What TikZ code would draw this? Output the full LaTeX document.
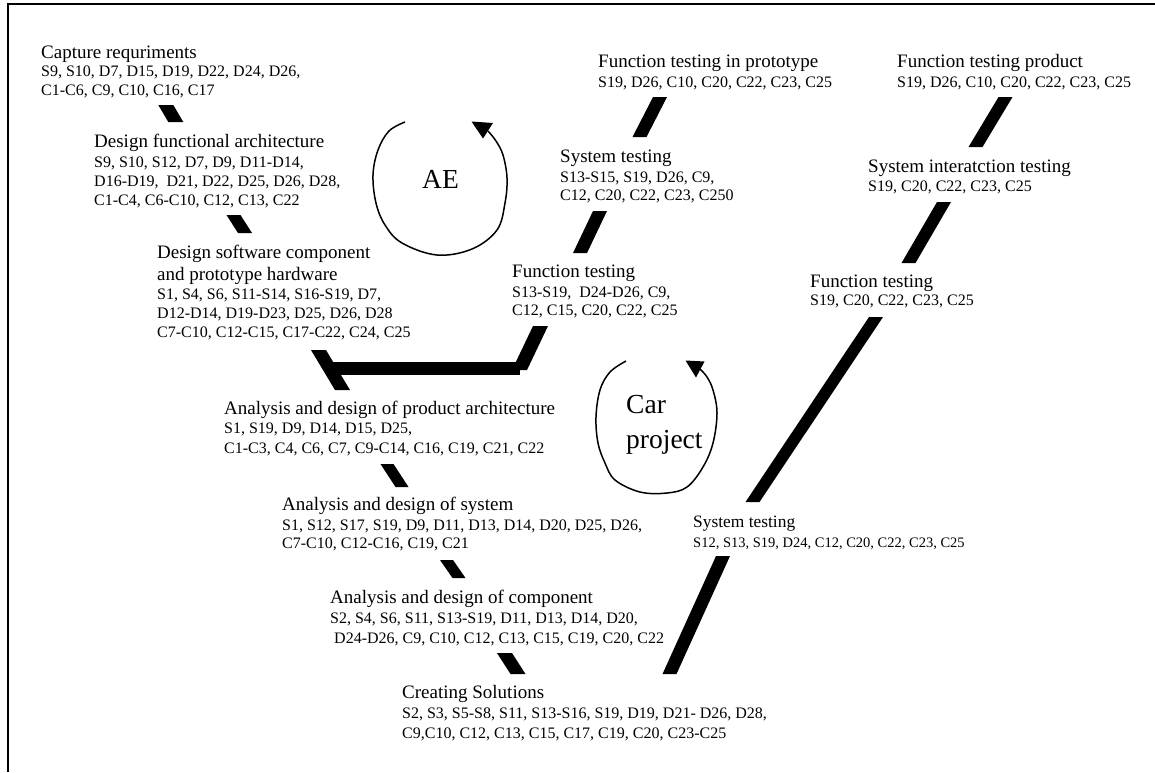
\documentclass[tikz,border=0pt]{standalone}
\usepackage{fontspec}
\setmainfont{Liberation Serif}
\usetikzlibrary{arrows.meta}
\tikzset{
  hd/.style={anchor=base west, inner sep=0pt, font=\fontsize{19}{22}\selectfont},
  cd/.style={anchor=base west, inner sep=0pt, font=\fontsize{16}{19}\selectfont},
  hds/.style={anchor=base west, inner sep=0pt, font=\fontsize{17.4}{21}\selectfont},
  cds/.style={anchor=base west, inner sep=0pt, font=\fontsize{14.5}{17}\selectfont},
  big/.style={anchor=base west, inner sep=0pt, font=\fontsize{27.5}{33}\selectfont},
  bar/.style={fill=black},
  loop/.style={line width=1.5pt},
  loophead/.style={fill=black},
  frame/.style={line width=2pt}
}
\newcommand\vbar[3]{\fill[bar] ([xshift=-#3pt]#1) -- ([xshift=#3pt]#1) -- ([xshift=#3pt]#2) -- ([xshift=-#3pt]#2) -- cycle;}
\begin{document}
\begin{tikzpicture}[x=1pt,y=-1pt]
\useasboundingbox (0,0) rectangle (1155,772);
\draw[frame] (8,772) -- (8,4) -- (1155,4);

% ---- left branch (design) ----
\node[hd] (cap) at (41,58) {Capture requriments};
\node[cd] (cap1) at (41,76) {S9, S10, D7, D15, D19, D22, D24, D26,};
\node[cd] (cap2) at (41,95) {C1-C6, C9, C10, C16, C17};

\node[hd] (dfa) at (94,147) {Design functional architecture};
\node[cd] (dfa1) at (94,167) {S9, S10, S12, D7, D9, D11-D14,};
\node[cd] (dfa2) at (94,186) {D16-D19,\ \ D21, D22, D25, D26, D28,};
\node[cd] (dfa3) at (94,205) {C1-C4, C6-C10, C12, C13, C22};

\node[hd] (dsw) at (157,258) {Design software component};
\node[hd] (dswb) at (157,280) {and prototype hardware};
\node[cd] (dsw1) at (157,299) {S1, S4, S6, S11-S14, S16-S19, D7,};
\node[cd] (dsw2) at (157,318) {D12-D14, D19-D23, D25, D26, D28};
\node[cd] (dsw3) at (157,337) {C7-C10, C12-C15, C17-C22, C24, C25};

\node[hd] (adpa) at (224,414) {Analysis and design of product architecture};
\node[cd] (adpa1) at (224,433) {S1, S19, D9, D14, D15, D25,};
\node[cd] (adpa2) at (224,453) {C1-C3, C4, C6, C7, C9-C14, C16, C19, C21, C22};

\node[hd] (ads) at (282,510) {Analysis and design of system};
\node[cd] (ads1) at (282,530) {S1, S12, S17, S19, D9, D11, D13, D14, D20, D25, D26,};
\node[cd] (ads2) at (282,548) {C7-C10, C12-C16, C19, C21};

\node[hd] (adc) at (330,603) {Analysis and design of component};
\node[cd] (adc1) at (330,623) {S2, S4, S6, S11, S13-S19, D11, D13, D14, D20,};
\node[cd] (adc2) at (334,643) {D24-D26, C9, C10, C12, C13, C15, C19, C20, C22};

\node[hd] (cs) at (402,698) {Creating Solutions};
\node[cd] (cs1) at (402,718) {S2, S3, S5-S8, S11, S13-S16, S19, D19, D21- D26, D28,};
\node[cd] (cs2) at (402,738) {C9,C10, C12, C13, C15, C17, C19, C20, C23-C25};

% ---- AE testing branch ----
\node[hd] (ft1) at (512,277) {Function testing};
\node[cd] (ft1a) at (512,297) {S13-S19,\ \ D24-D26, C9,};
\node[cd] (ft1b) at (512,315) {C12, C15, C20, C22, C25};

\node[hd] (st1) at (560,162) {System testing};
\node[cd] (st1a) at (560,182) {S13-S15, S19, D26, C9,};
\node[cd] (st1b) at (560,200) {C12, C20, C22, C23, C250};

\node[hd] (ftp) at (598,67) {Function testing in prototype};
\node[cd] (ftp1) at (598,87) {S19, D26, C10, C20, C22, C23, C25};

% ---- car project testing branch ----
\node[hds] (st2) at (693,527) {System testing};
\node[cds] (st2a) at (693,547) {S12, S13, S19, D24, C12, C20, C22, C23, C25};

\node[hd] (ft2) at (810,287) {Function testing};
\node[cd] (ft2a) at (810,305) {S19, C20, C22, C23, C25};

\node[hd] (sit) at (868,172) {System interatction testing};
\node[cd] (sita) at (868,191) {S19, C20, C22, C23, C25};

\node[hd] (fpr) at (897,67) {Function testing product};
\node[cd] (fpr1) at (897,87) {S19, D26, C10, C20, C22, C23, C25};

% ---- loop labels ----
\node[big] (ae) at (422,188) {AE};
\node[big] (car) at (626,413) {Car};
\node[big] (proj) at (626,448) {project};

% ---- bar end points ----
\coordinate (a1) at (165.8,105);  \coordinate (a2) at (175.8,122);
\coordinate (b1) at (233.5,215);  \coordinate (b2) at (245,233);
\coordinate (c1) at (318.5,350);  \coordinate (c2) at (342.5,390);
\coordinate (c3) at (540.5,326);  \coordinate (c4) at (519.5,370);
\coordinate (h1) at (330,362);    \coordinate (h2) at (520,375);
\coordinate (d1) at (600,211);    \coordinate (d2) at (580,253);
\coordinate (e1) at (660,97);     \coordinate (e2) at (639.5,137);
\coordinate (f1) at (1005.5,97);  \coordinate (f2) at (975.5,147);
\coordinate (g1) at (944,202);    \coordinate (g2) at (908.5,263);
\coordinate (k1) at (876,317);    \coordinate (k2) at (752.5,502);
\coordinate (i1) at (723,556);    \coordinate (i2) at (669.5,674);
\coordinate (j1) at (387,464);    \coordinate (j2) at (402,487);
\coordinate (m1) at (446.5,560);  \coordinate (m2) at (459,578);
\coordinate (l1) at (504.5,653);  \coordinate (l2) at (518,674);

\vbar{a1}{a2}{7.5}
\vbar{b1}{b2}{7}
\vbar{c1}{c2}{7.5}
\vbar{c3}{c4}{7.5}
\fill[bar] (h1) rectangle (h2);
\vbar{d1}{d2}{7}
\vbar{e1}{e2}{7}
\vbar{f1}{f2}{7}
\vbar{g1}{g2}{7}
\vbar{k1}{k2}{7}
\vbar{i1}{i2}{7}
\vbar{j1}{j2}{6.5}
\vbar{m1}{m2}{6.5}
\vbar{l1}{l2}{7.5}

% ---- loops ----
\draw[loop] plot[smooth, tension=0.6] coordinates {(405,122) (389,131) (378,150) (373,175) (376,203) (385,225) (402,243) (437,255) (472,249) (497,230) (505,203) (507,178) (503,155) (496,141) (488,131)};
\fill[loophead] (471.5,121.5) -- (493,123) -- (483,138.5) -- cycle;
\draw[loop] plot[smooth, tension=0.6] coordinates {(626,361) (610,372) (600,390) (596,417) (598,443) (605,463) (615,480) (640,492) (667,493) (687,487) (703,467) (713,443) (717,413) (713,390) (707,377) (700,369)};
\fill[loophead] (685.5,360.5) -- (704.5,361.5) -- (696,377.5) -- cycle;
\end{tikzpicture}
\end{document}
